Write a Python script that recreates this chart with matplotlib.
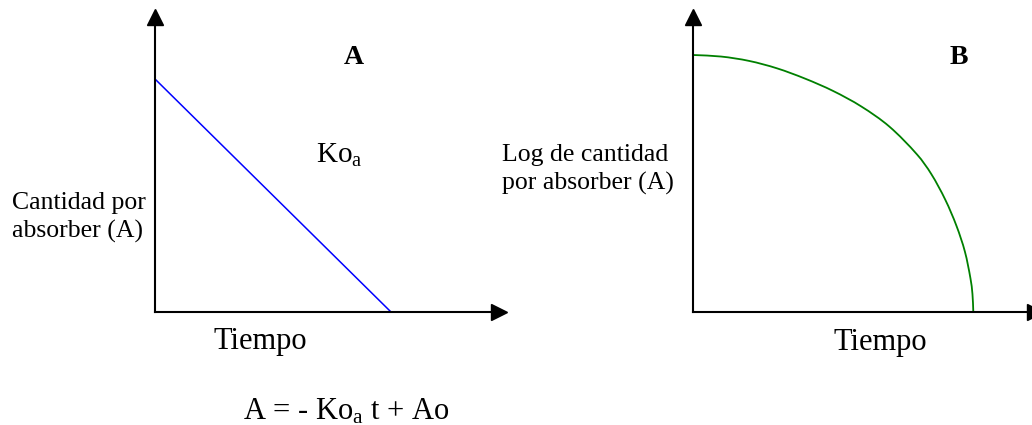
import matplotlib
matplotlib.use("Agg")
import matplotlib.pyplot as plt
from matplotlib.path import Path
from matplotlib.patches import PathPatch

plt.rcParams["font.family"] = ["Liberation Serif", "DejaVu Serif"]
plt.rcParams["mathtext.fontset"] = "custom"
plt.rcParams["mathtext.rm"] = "Liberation Serif"
plt.rcParams["mathtext.it"] = "Liberation Serif:italic"

# Panel A: amount left to absorb falls linearly with time
time_a = [0.0, 1.0]
amount_a = [1.0, 0.0]

# Panel B: log of amount left to absorb versus time
time_b = [0.0, 0.1, 0.2, 0.3, 0.4, 0.5, 0.6, 0.7, 0.8, 0.85,
          0.9, 0.94, 0.97, 0.99, 0.997, 1.0]
log_amount_b = [1.0, 0.994, 0.977, 0.948, 0.908, 0.860, 0.800, 0.722,
                0.612, 0.537, 0.437, 0.335, 0.235, 0.13, 0.07, 0.0]

W, H = 1032, 425
fig = plt.figure(figsize=(W / 100, H / 100), dpi=100)


def px_box(x0, y_bottom, x1, y_top):
    return [x0 / W, 1 - y_bottom / H, (x1 - x0) / W, (y_bottom - y_top) / H]


def arrow_axes(ax):
    for side in ("top", "right"):
        ax.spines[side].set_visible(False)
    for side in ("left", "bottom"):
        ax.spines[side].set_linewidth(1.5)
        ax.spines[side].set_color("black")
    ax.set_xticks([])
    ax.set_yticks([])
    ax.patch.set_alpha(0)
    ax.plot(1, 0, marker=">", color="black", markersize=11,
            transform=ax.transAxes, clip_on=False)
    ax.plot(0, 1, marker="^", color="black", markersize=11,
            transform=ax.transAxes, clip_on=False)


def smooth_path(xs, ys, sx, sy):
    """Cubic Bezier path through every point, chord-length weighted tangents.

    sx, sy give the on-screen scale of one data unit, so chord lengths are
    measured as they appear on the page.
    """
    pts = list(zip(xs, ys))
    n = len(pts)

    def dist(a, b):
        return (((a[0] - b[0]) * sx) ** 2 + ((a[1] - b[1]) * sy) ** 2) ** 0.5

    d = [dist(pts[i], pts[i + 1]) for i in range(n - 1)]
    tang = []
    for i in range(n):
        if i == 0:
            a, b, span = pts[0], pts[1], d[0]
        elif i == n - 1:
            a, b, span = pts[-2], pts[-1], d[-1]
        else:
            a, b, span = pts[i - 1], pts[i + 1], d[i - 1] + d[i]
        tang.append(((b[0] - a[0]) / span, (b[1] - a[1]) / span))
    verts = [pts[0]]
    codes = [Path.MOVETO]
    for i in range(n - 1):
        p1, p2 = pts[i], pts[i + 1]
        h = d[i] / 3
        c1 = (p1[0] + tang[i][0] * h, p1[1] + tang[i][1] * h)
        c2 = (p2[0] - tang[i + 1][0] * h, p2[1] - tang[i + 1][1] * h)
        verts += [c1, c2, p2]
        codes += [Path.CURVE4] * 3
    return Path(verts, codes)


def ftext(x, y, s, **kw):
    fig.text(x / W, 1 - y / H, s, va="baseline", **kw)


# Left panel
ax_a = fig.add_axes(px_box(155, 312, 499, 17))
ax_a.plot(time_a, amount_a, color="#0000ff", lw=1.1, solid_capstyle="butt")
ax_a.set_xlim(0, (499 - 155) / 236)
ax_a.set_ylim(0, (312 - 17) / 233)
arrow_axes(ax_a)

# Right panel
ax_b = fig.add_axes(px_box(693, 312, 1035, 17))
ax_b.add_patch(PathPatch(smooth_path(time_b, log_amount_b, 280.3, 257),
                         facecolor="none", edgecolor="#008000", lw=1.3))
ax_b.set_xlim(0, (1035 - 693) / 280.3)
ax_b.set_ylim(0, (312 - 17) / 257)
arrow_axes(ax_b)

# Panel titles and labels
ftext(354, 64, "A", fontsize=20, fontweight="bold", ha="center")
ftext(959, 64, "B", fontsize=20, fontweight="bold", ha="center")
ftext(316, 163, "Ko$_{\\rm a}$", fontsize=21)
ftext(12, 209, "Cantidad por", fontsize=18.5)
ftext(12, 238, "absorber (A)", fontsize=18.5)
ftext(502, 161, "Log de cantidad", fontsize=18.5)
ftext(502, 190, "por absorber (A)", fontsize=18.5)
ftext(213, 349, "Tiempo", fontsize=22)
ftext(834, 350, "Tiempo", fontsize=22)
ftext(243, 420, "A = - Ko$_{\\rm a}$ t + Ao", fontsize=22)

fig.savefig("out.png", dpi=100)
